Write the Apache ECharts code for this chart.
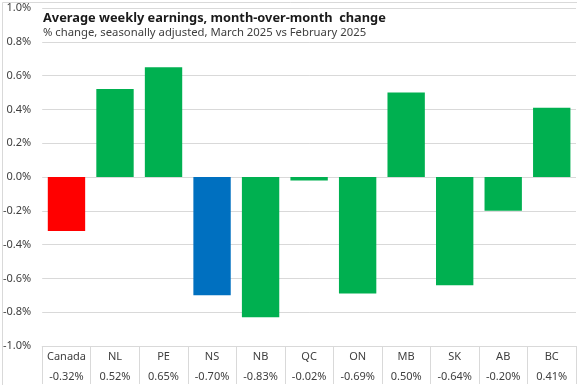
<!DOCTYPE html>
<html><head><meta charset="utf-8">
<script src="https://cdn.jsdelivr.net/npm/echarts@6/dist/echarts.min.js"></script>
<style>html,body{margin:0;padding:0;background:#fff}#c{width:577px;height:385px}</style>
</head><body><div id="c"></div>
<script>
const categories = ['Canada','NL','PE','NS','NB','QC','ON','MB','SK','AB','BC'];
const values = [-0.32, 0.52, 0.65, -0.70, -0.83, -0.02, -0.69, 0.50, -0.64, -0.20, 0.41];
const barColors = ['#ff0000','#00b050','#00b050','#0070c0','#00b050','#00b050','#00b050','#00b050','#00b050','#00b050','#00b050'];
const titleText = 'Average weekly earnings, month-over-month  change';
const subtitleText = '% change, seasonally adjusted, March 2025 vs February 2025';

const chart = echarts.init(document.getElementById('c'));
const font = 'Noto Sans';
chart.setOption({
  animation: false,
  backgroundColor: '#fff',
  title: {
    text: titleText, subtext: subtitleText,
    left: 38, top: 7, itemGap: 2,
    textStyle: {fontFamily: font, fontSize: 12.8, fontWeight: 'bold', color: '#1a1a1a'},
    subtextStyle: {fontFamily: font, fontSize: 11.3, color: '#404040'}
  },
  grid: {left: 41, right: 1, top: 8, bottom: 39},
  xAxis: {
    type: 'category', data: categories,
    axisLine: {show: true, onZero: false, lineStyle: {color: '#d9d9d9'}},
    axisTick: {show: true, length: 38, lineStyle: {color: '#d9d9d9'}},
    axisLabel: {
      margin: 1, interval: 0,
      formatter: (v, i) => '{a|' + v + '}\n{a|' + values[i].toFixed(2) + '%}',
      rich: {a: {fontFamily: font, fontSize: 11, color: '#404040', lineHeight: 20}}
    }
  },
  yAxis: {
    type: 'value', min: -1, max: 1, interval: 0.2,
    axisLine: {show: false}, axisTick: {show: false},
    splitLine: {lineStyle: {color: '#d9d9d9'}},
    axisLabel: {
      margin: 11, fontFamily: font, fontSize: 11, color: '#404040',
      formatter: v => (Math.abs(v) < 1e-9 ? 0 : v).toFixed(1) + '%'
    }
  },
  series: [{
    type: 'bar', barCategoryGap: '23%',
    data: values.map((v, i) => ({value: v, itemStyle: {color: barColors[i]}}))
  }],
  graphic: [{
    type: 'rect', left: 0, top: 0, silent: true,
    shape: {x: 0.5, y: 0.5, width: 576, height: 384},
    style: {fill: 'none', stroke: '#d9d9d9', lineWidth: 1}
  }]
});
</script></body></html>
